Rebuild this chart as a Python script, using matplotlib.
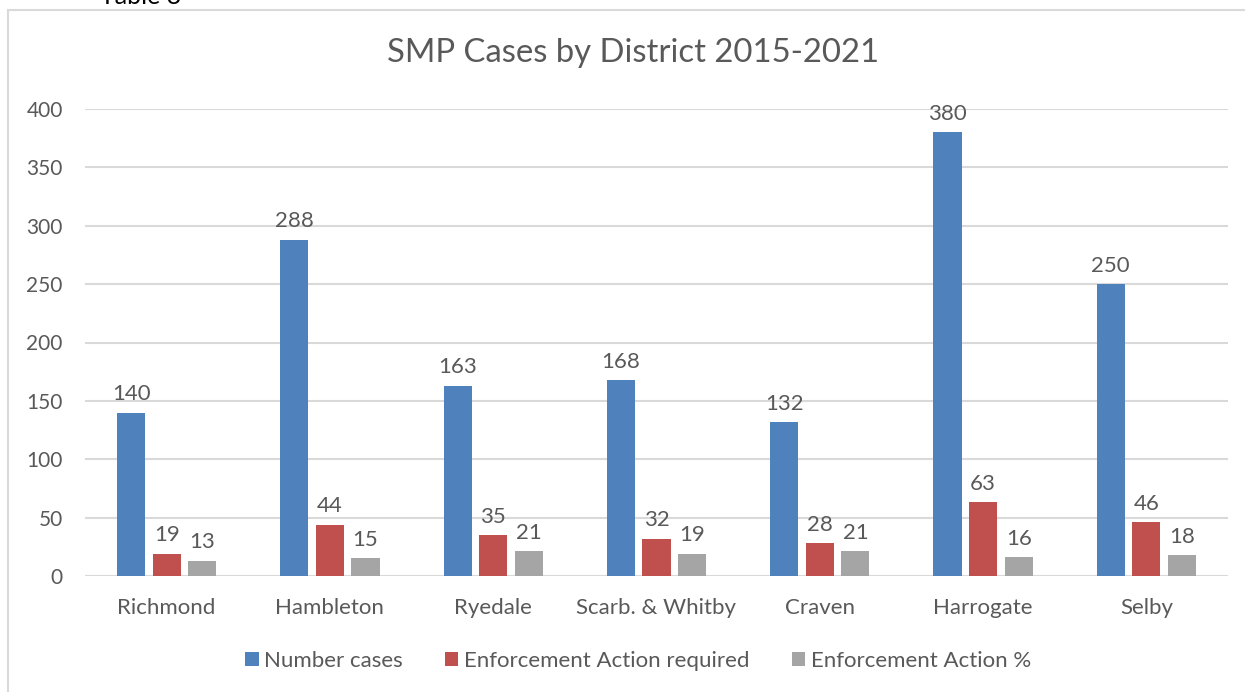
import matplotlib
matplotlib.use("Agg")
import matplotlib.pyplot as plt
import numpy as np
from matplotlib.patches import Rectangle

districts = ["Richmond", "Hambleton", "Ryedale", "Scarb. & Whitby", "Craven", "Harrogate", "Selby"]
number_cases = [140, 288, 163, 168, 132, 380, 250]
enforcement_required = [19, 44, 35, 32, 28, 63, 46]
enforcement_pct = [13, 15, 21, 19, 21, 16, 18]
series_names = ["Number cases", "Enforcement Action required", "Enforcement Action %"]
yticks = [0, 50, 100, 150, 200, 250, 300, 350, 400]

colors = ["#4F81BD", "#C0504D", "#A5A5A5"]
text_color = "#595959"
grid_color = "#D9D9D9"

plt.rcParams['font.family'] = ['Lato', 'DejaVu Sans']

fig = plt.figure(figsize=(12.45, 6.92), dpi=100)
W, H = 1245, 692

# chart frame (extends beyond right/bottom edge)
fig.patches.append(Rectangle((8 / W, -0.1), 1.2, 1 - 10 / H + 0.1, transform=fig.transFigure,
                             fill=False, edgecolor=grid_color, linewidth=1.5))
fig.text(100 / W, 1 - 4 / H, "Table 3", fontsize=18, color="black", va="baseline", ha="left")

ax = fig.add_axes([85 / W, 1 - 576 / H, (1228 - 85) / W, (576 - 109) / H])
x = np.arange(len(districts))
bw = 0.172
step = 0.218
series = [number_cases, enforcement_required, enforcement_pct]
for i, (vals, c, name) in enumerate(zip(series, colors, series_names)):
    bars = ax.bar(x + (i - 1) * step, vals, width=bw, color=c, label=name, zorder=3)
    for b, v in zip(bars, vals):
        ax.annotate(str(v), (b.get_x() + b.get_width() / 2, v), xytext=(0, 6),
                    textcoords="offset points", ha="center", va="bottom",
                    fontsize=16, color=text_color)

ax.set_xlim(-0.5, len(districts) - 0.5)
ax.set_ylim(0, 400)
ax.set_yticks(yticks)
ax.set_xticks(x)
ax.set_xticklabels(districts, fontsize=16)
ax.tick_params(axis="both", length=0, labelcolor=text_color)
ax.tick_params(axis="y", labelsize=15, pad=16)
ax.tick_params(axis="x", pad=16)
ax.yaxis.grid(True, color=grid_color, linewidth=1.5, zorder=0)
for s in ax.spines.values():
    s.set_visible(False)

fig.text(633 / W, 1 - 53 / H, "SMP Cases by District 2015-2021", fontsize=23.7,
         color=text_color, ha="center", va="center")

leg = ax.legend(loc="center", bbox_to_anchor=(638 / W, 1 - 661 / H), bbox_transform=fig.transFigure,
                ncol=3, frameon=False, fontsize=16, handlelength=0.6, handleheight=0.6,
                handletextpad=0.25, columnspacing=1.9, labelcolor=text_color)

fig.savefig("out.png", dpi=100)
